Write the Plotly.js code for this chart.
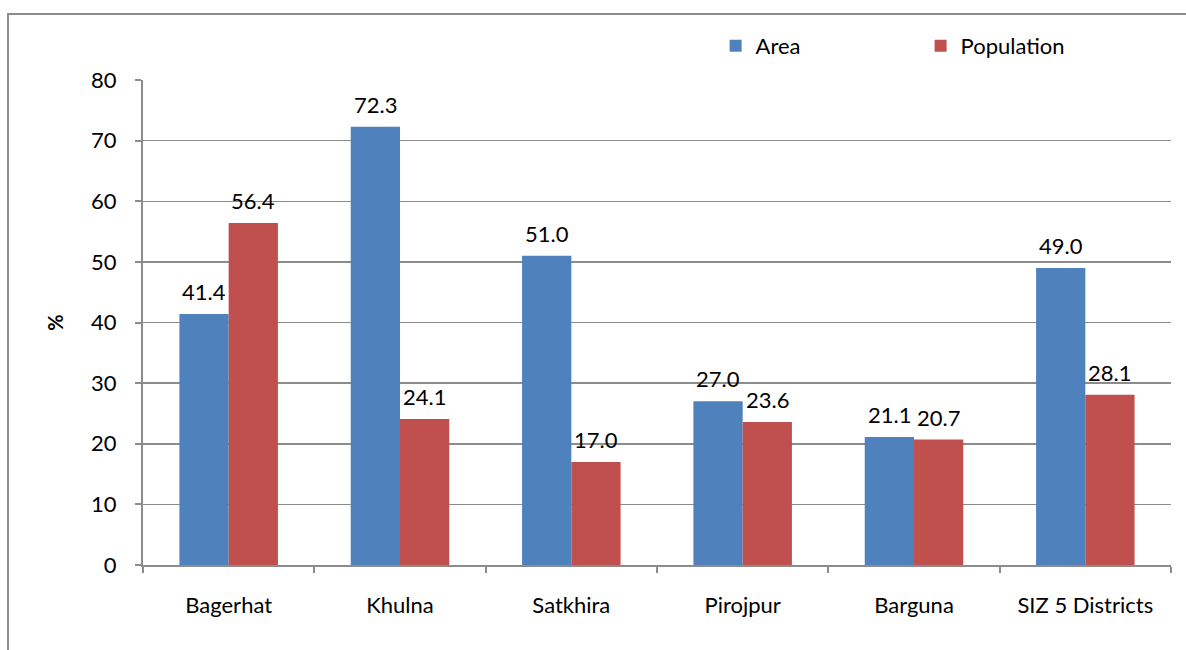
<!DOCTYPE html>
<html>
<head>
<meta charset="utf-8">
<script src="https://cdn.plot.ly/plotly-3.0.1.min.js"></script>
<style>
  html, body { margin: 0; padding: 0; background: #ffffff; }
  #grafico { width: 1186px; height: 650px; }
</style>
</head>
<body>
<div id="grafico"></div>
<script>
// Distritos e percentagens
const districts = ['Bagerhat', 'Khulna', 'Satkhira', 'Pirojpur', 'Barguna', 'SIZ 5 Districts'];
const areaValues = [41.4, 72.3, 51.0, 27.0, 21.1, 49.0];
const populationValues = [56.4, 24.1, 17.0, 23.6, 20.7, 28.1];
const yTicks = [0, 10, 20, 30, 40, 50, 60, 70, 80];

const fontFamily = 'Lato, "Open Sans", sans-serif';
const fontSize = 22;

const data = [
    {
        x: districts,
        y: areaValues,
        name: 'Area',
        type: 'bar',
        marker: { color: '#4F81BD' },
        hoverinfo: 'skip'
    },
    {
        x: districts,
        y: populationValues,
        name: 'Population',
        type: 'bar',
        marker: { color: '#C0504D' },
        hoverinfo: 'skip'
    }
];

// Rótulos de valor acima de cada barra (um pouco afastados, como no Excel)
const barHalf = 24.5;
const annotations = [];
districts.forEach((d, i) => {
    annotations.push({
        x: d, y: areaValues[i], xref: 'x', yref: 'y',
        text: areaValues[i].toFixed(1),
        showarrow: false, xshift: -barHalf, yshift: 7,
        yanchor: 'bottom', xanchor: 'center',
        font: { family: fontFamily, size: fontSize, color: '#000000' }
    });
    annotations.push({
        x: d, y: populationValues[i], xref: 'x', yref: 'y',
        text: populationValues[i].toFixed(1),
        showarrow: false, xshift: barHalf, yshift: 7,
        yanchor: 'bottom', xanchor: 'center',
        font: { family: fontFamily, size: fontSize, color: '#000000' }
    });
});

const layout = {
    width: 1186,
    height: 650,
    margin: { l: 143, r: 15, t: 80, b: 85 },
    barmode: 'group',
    bargap: 0.425,
    bargroupgap: 0,
    font: { family: fontFamily, size: fontSize, color: '#000000' },
    plot_bgcolor: '#ffffff',
    paper_bgcolor: '#ffffff',
    showlegend: true,
    legend: {
        orientation: 'h',
        x: 0.557,
        y: 1.07,
        xanchor: 'left',
        yanchor: 'middle',
        entrywidth: 160,
        entrywidthmode: 'pixels',
        font: { family: fontFamily, size: fontSize },
        itemwidth: 30
    },
    xaxis: {
        type: 'category',
        showline: true,
        linecolor: '#8c8c8c',
        linewidth: 2,
        ticks: 'outside',
        tickson: 'boundaries',
        ticklen: 6,
        tickcolor: '#8c8c8c',
        tickwidth: 2,
        ticklabelstandoff: 20,
        showgrid: false,
        tickfont: { family: fontFamily, size: fontSize }
    },
    yaxis: {
        range: [0, 80],
        tickvals: yTicks,
        showline: true,
        linecolor: '#8c8c8c',
        linewidth: 2,
        ticks: 'outside',
        ticklen: 6,
        tickcolor: '#8c8c8c',
        tickwidth: 2,
        ticklabelstandoff: 14,
        showgrid: true,
        gridcolor: '#8c8c8c',
        gridwidth: 1.5,
        zeroline: false,
        tickfont: { family: fontFamily, size: fontSize },
        title: {
            text: '<b>%</b>',
            standoff: 22,
            font: { family: fontFamily, size: 20 }
        }
    },
    annotations: annotations,
    shapes: [
        // moldura do gráfico (continua para fora da imagem)
        {
            type: 'rect',
            xref: 'paper', yref: 'paper',
            x0: -0.1313, x1: 1.2,
            y0: -0.4, y1: 1.136,
            line: { color: '#8c8c8c', width: 2 },
            fillcolor: 'rgba(0,0,0,0)',
            layer: 'below'
        }
    ]
};

Plotly.newPlot('grafico', data, layout, { displayModeBar: false, staticPlot: true });
</script>
</body>
</html>
